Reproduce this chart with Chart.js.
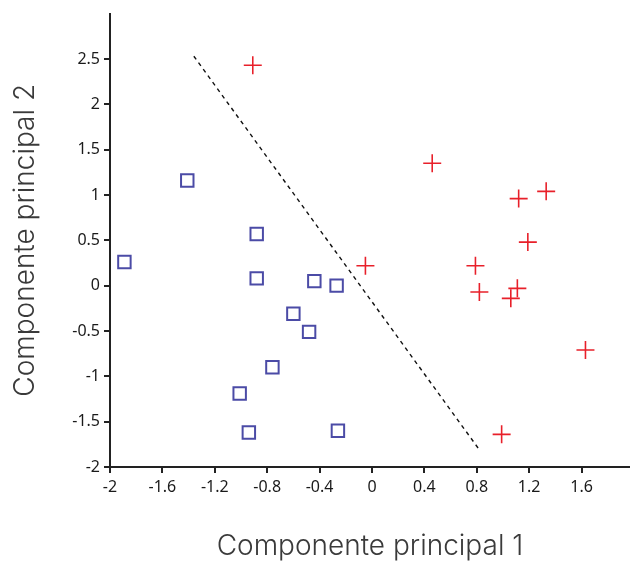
<!DOCTYPE html>
<html>
<head>
<meta charset="utf-8">
<script src="https://cdn.jsdelivr.net/npm/chart.js@4"></script>
<style>
  html, body { margin: 0; padding: 0; background: #fff; }
  #wrap { width: 630px; height: 565px; }
</style>
</head>
<body>
<div id="wrap"><canvas id="chart"></canvas></div>
<script>
// Grupo 1 (cuadrados azules)
var squareX = [-1.41, -0.88, -1.89, -0.88, -0.44, -0.27, -0.60, -0.48, -0.76, -1.01, -0.94, -0.26];
var squareY = [1.16, 0.57, 0.26, 0.08, 0.05, 0.00, -0.31, -0.51, -0.90, -1.19, -1.62, -1.60];

// Grupo 2 (cruces rojas)
var crossX = [-0.91, 0.46, 1.12, 1.33, 1.19, -0.05, 0.79, 0.82, 1.11, 1.06, 1.63, 0.99];
var crossY = [2.43, 1.35, 0.96, 1.04, 0.48, 0.22, 0.22, -0.07, -0.03, -0.14, -0.71, -1.64];

// Linea de separacion
var lineX = [-1.36, 0.82];
var lineY = [2.53, -1.81];

// Marcas de los ejes
var xTicks = [-2, -1.6, -1.2, -0.8, -0.4, 0, 0.4, 0.8, 1.2, 1.6];
var yTicks = [-2, -1.5, -1, -0.5, 0, 0.5, 1, 1.5, 2, 2.5];

function toPoints(xs, ys) {
  return xs.map(function (x, i) { return { x: x, y: ys[i] }; });
}

var tickFont = { family: "'Noto Sans', sans-serif", size: 16 };
var titleFont = { family: "Inter, sans-serif", size: 28, weight: '300' };

var chart = new Chart(document.getElementById('chart'), {
  type: 'scatter',
  data: {
    datasets: [{
      data: toPoints(squareX, squareY),
      pointStyle: 'rect',
      pointRadius: 8.8,
      pointHoverRadius: 8.8,
      borderColor: '#4b4ba6',
      backgroundColor: 'rgba(0,0,0,0)',
      borderWidth: 2
    }, {
      data: toPoints(crossX, crossY),
      pointStyle: 'cross',
      pointRadius: 9,
      pointHoverRadius: 9,
      borderColor: '#e8202a',
      backgroundColor: '#e8202a',
      borderWidth: 1.6
    }, {
      data: toPoints(lineX, lineY),
      showLine: true,
      pointRadius: 0,
      borderColor: '#111',
      borderWidth: 1.4,
      borderDash: [4, 4]
    }]
  },
  options: {
    responsive: true,
    maintainAspectRatio: false,
    animation: false,
    layout: { autoPadding: false, padding: { top: 13, right: 0, bottom: 0, left: 0 } },
    plugins: { legend: { display: false }, tooltip: { enabled: false } },
    scales: {
      x: {
        type: 'linear',
        min: -2,
        max: 1.97,
        afterBuildTicks: function (scale) {
          scale.ticks = xTicks.map(function (v) { return { value: v }; });
        },
        afterFit: function (scale) {
          scale.height = 98;
          scale.paddingLeft = 0;
          scale.paddingRight = 0;
        },
        grid: { drawOnChartArea: false, drawTicks: true, tickLength: 6, color: '#222', lineWidth: 2 },
        border: { display: true, color: '#222', width: 2 },
        ticks: {
          color: '#1a1a1a', font: tickFont, padding: 5, maxRotation: 0, autoSkip: false,
          callback: function (v) { return String(Math.round(v * 10) / 10); }
        },
        title: { display: true, text: 'Componente principal 1', color: '#3a3a3a', font: titleFont, padding: { top: 2, bottom: 2 } }
      },
      y: {
        type: 'linear',
        min: -2,
        max: 3,
        afterBuildTicks: function (scale) {
          scale.ticks = yTicks.map(function (v) { return { value: v }; });
        },
        afterFit: function (scale) { scale.width = 110; },
        grid: { drawOnChartArea: false, drawTicks: true, tickLength: 6, color: '#222', lineWidth: 2 },
        border: { display: true, color: '#222', width: 2 },
        ticks: {
          color: '#1a1a1a', font: tickFont, padding: 4, autoSkip: false,
          callback: function (v) { return String(Math.round(v * 10) / 10); }
        },
        title: { display: true, text: 'Componente principal 2', color: '#3a3a3a', font: titleFont, padding: { top: 9, bottom: 0 } }
      }
    }
  }
});
</script>
</body>
</html>
